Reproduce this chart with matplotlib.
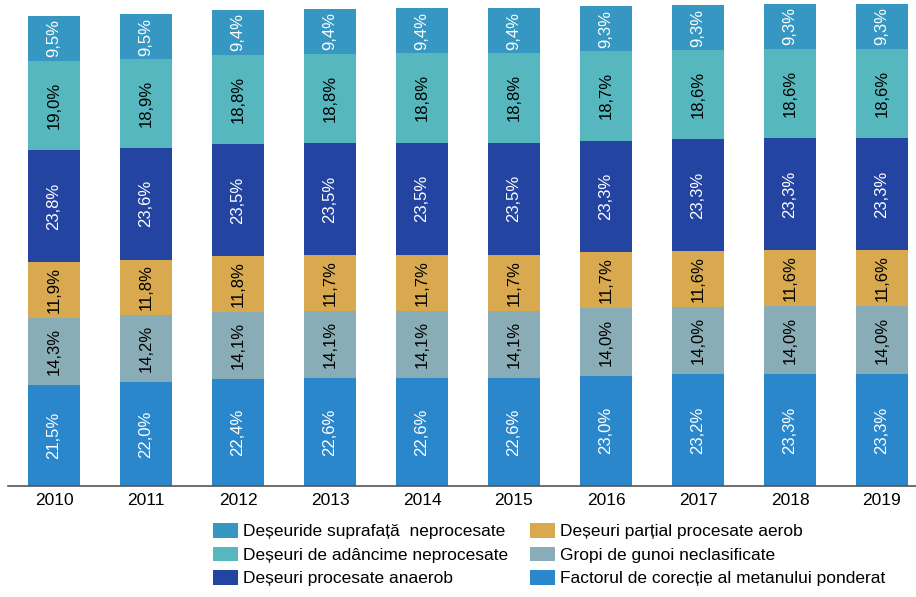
import numpy as np
import matplotlib.pyplot as plt
from matplotlib.patches import Patch

plt.rcParams['font.family'] = ['Liberation Sans', 'DejaVu Sans']

years = ['2010', '2011', '2012', '2013', '2014', '2015', '2016', '2017', '2018', '2019']

# share of each category (%), bottom to top
factor_corectie = [21.5, 22.0, 22.4, 22.6, 22.6, 22.6, 23.0, 23.2, 23.3, 23.3]
gropi_neclasif = [14.3, 14.2, 14.1, 14.1, 14.1, 14.1, 14.0, 14.0, 14.0, 14.0]
partial_aerob = [11.9, 11.8, 11.8, 11.7, 11.7, 11.7, 11.7, 11.6, 11.6, 11.6]
anaerob = [23.8, 23.6, 23.5, 23.5, 23.5, 23.5, 23.3, 23.3, 23.3, 23.3]
adancime = [19.0, 18.9, 18.8, 18.8, 18.8, 18.8, 18.7, 18.6, 18.6, 18.6]
suprafata = [9.5, 9.5, 9.4, 9.4, 9.4, 9.4, 9.3, 9.3, 9.3, 9.3]

# bar height relative to 2010 (bars grow slightly)
bar_total = [100.0, 100.4, 101.3, 101.5, 101.7, 101.7, 102.1, 102.3, 102.6, 102.6]

series = [
    (factor_corectie, '#2b87cc', 'white', 'Factorul de corecție al metanului ponderat'),
    (gropi_neclasif, '#89adb7', 'black', 'Gropi de gunoi neclasificate'),
    (partial_aerob, '#d9a94f', 'black', 'Deșeuri parțial procesate aerob'),
    (anaerob, '#2444a2', 'white', 'Deșeuri procesate anaerob'),
    (adancime, '#57b7bf', 'black', 'Deșeuri de adâncime neprocesate'),
    (suprafata, '#3597c2', 'white', 'Deșeuride suprafață  neprocesate'),
]

fig = plt.figure(figsize=(9.16, 5.97), dpi=100)
ax = fig.add_axes([8 / 916, 111 / 597, 908 / 916, 484 / 597])

x = np.arange(len(years))
scale = np.array(bar_total) / np.sum([s[0] for s in series], axis=0)
bottom = np.zeros(len(years))
for vals, col, tcol, name in series:
    h = np.array(vals) * scale
    ax.bar(x, h, bottom=bottom, width=0.565, color=col, edgecolor='none')
    for xi, b, hi, v in zip(x, bottom, h, vals):
        ax.text(xi, b + hi / 2, f'{v:.1f}%'.replace('.', ','), rotation=90,
                ha='center', va='center', color=tcol, fontsize=12)
    bottom += h

ax.set_xlim(-0.5, 9.37)
ax.set_ylim(0, 103)
ax.set_xticks(x)
ax.set_xticklabels(years, fontsize=12.5)
ax.tick_params(axis='x', length=0, pad=5)
ax.set_yticks([])
for s in ['top', 'right', 'left']:
    ax.spines[s].set_visible(False)
ax.spines['bottom'].set_color('#555555')
ax.spines['bottom'].set_linewidth(1.2)

# legend in the original order (two columns)
order = [5, 4, 3, 2, 1, 0]
handles = [Patch(facecolor=series[i][1], label=series[i][3]) for i in order]
fig.legend(handles=handles, loc='upper left', bbox_to_anchor=(213 / 916, 1 - 523 / 597),
           ncol=2, frameon=False, fontsize=12.5, handlelength=1.44,
           handleheight=0.92, handletextpad=0.3, columnspacing=1.26,
           labelspacing=0.42, borderpad=0, borderaxespad=0)

fig.savefig('out.png', dpi=100)
